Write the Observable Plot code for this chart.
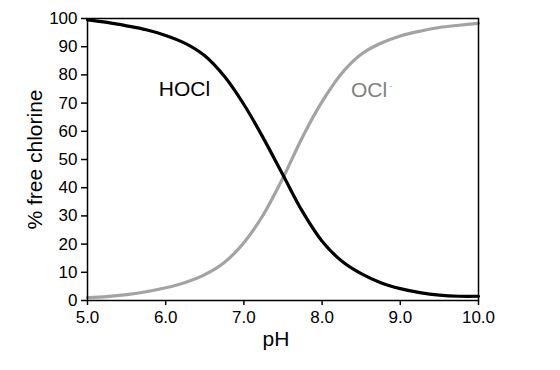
<!DOCTYPE html>
<html>
<head>
<meta charset="utf-8">
<script src="https://cdn.jsdelivr.net/npm/d3@7"></script>
<script src="https://cdn.jsdelivr.net/npm/@observablehq/plot@0.6"></script>
<style>
  html, body { margin: 0; padding: 0; background: #fff; }
  #chart { width: 560px; height: 370px; }
</style>
</head>
<body>
<div id="chart"></div>
<script>
// pH values
const pH   = [5.0, 5.25, 5.5, 5.75, 6.0, 6.25, 6.5, 6.75, 7.0, 7.25, 7.5, 7.75, 8.0, 8.25, 8.5, 8.75, 9.0, 9.25, 9.5, 9.75, 10.0];
// % HOCl
const hocl = [99.5, 98.6, 97.4, 96.0, 94.0, 91.2, 86.8, 79.5, 69.5, 57.5, 44.5, 31.5, 21.0, 14.0, 9.5, 6.3, 4.2, 2.8, 1.9, 1.5, 1.5];
// % OCl-
const ocl  = [1.0, 1.4, 2.1, 3.1, 4.5, 6.4, 9.2, 13.5, 20.5, 30.5, 43.5, 58.0, 70.5, 80.5, 87.3, 91.2, 93.8, 95.5, 96.8, 97.6, 98.3];

const xTicks = [5, 6, 7, 8, 9, 10];
const yTicks = [0, 10, 20, 30, 40, 50, 60, 70, 80, 90, 100];

const seriesNames = ["HOCl", "OCl⁻"];
const labelBase   = ["HOCl", "OCl"];
const labelSup    = ["", "-"];
const labelPH     = [6.24, 8.6];
const labelValue  = [74.8, 74.5];

const rowsH = pH.map((p, i) => ({pH: p, v: hocl[i]}));
const rowsO = pH.map((p, i) => ({pH: p, v: ocl[i]}));
const labels = seriesNames.map((s, i) => ({name: s, base: labelBase[i], sup: labelSup[i], pH: labelPH[i], v: labelValue[i]}));

const chart = Plot.plot({
  width: 560,
  height: 370,
  marginLeft: 87,
  marginRight: 82,
  marginTop: 18,
  marginBottom: 70,
  style: {fontFamily: "'Liberation Sans', Arial, sans-serif", background: "#fff", color: "#000"},
  x: {domain: [5, 10]},
  y: {domain: [0, 100]},
  marks: [
    Plot.axisY({ticks: yTicks, tickSize: 6, tickPadding: 4, fontSize: 17, label: null, stroke: "#000", strokeWidth: 1.5}),
    Plot.axisX({ticks: xTicks, tickSize: 5, tickPadding: 5, fontSize: 17, label: null, tickFormat: d => d.toFixed(1), stroke: "#000", strokeWidth: 1.5}),
    Plot.line(rowsO, {x: "pH", y: "v", stroke: "#a3a3a3", strokeWidth: 3.2, curve: "catmull-rom"}),
    Plot.line(rowsH, {x: "pH", y: "v", stroke: "#000", strokeWidth: 3.2, curve: "catmull-rom"}),
    Plot.frame({stroke: "#000", strokeWidth: 1.5}),
    Plot.text(labels, {x: "pH", y: "v", text: "base", fontSize: 21, fill: (d, i) => i === 0 ? "#000" : "#7f7f7f"}),
    Plot.text(labels.filter(d => d.sup), {x: "pH", y: "v", text: "sup", fontSize: 11, textAnchor: "start", dx: 20, dy: -5, fill: "#bdbdbd"}),
    Plot.text(["pH"], {frameAnchor: "bottom", dy: 45, dx: -7, fontSize: 21, fill: "#000"}),
    Plot.text(["% free chlorine"], {frameAnchor: "left", textAnchor: "middle", dx: -52, rotate: -90, fontSize: 21, fill: "#000"})
  ]
});
document.getElementById("chart").appendChild(chart);
</script>
</body>
</html>
